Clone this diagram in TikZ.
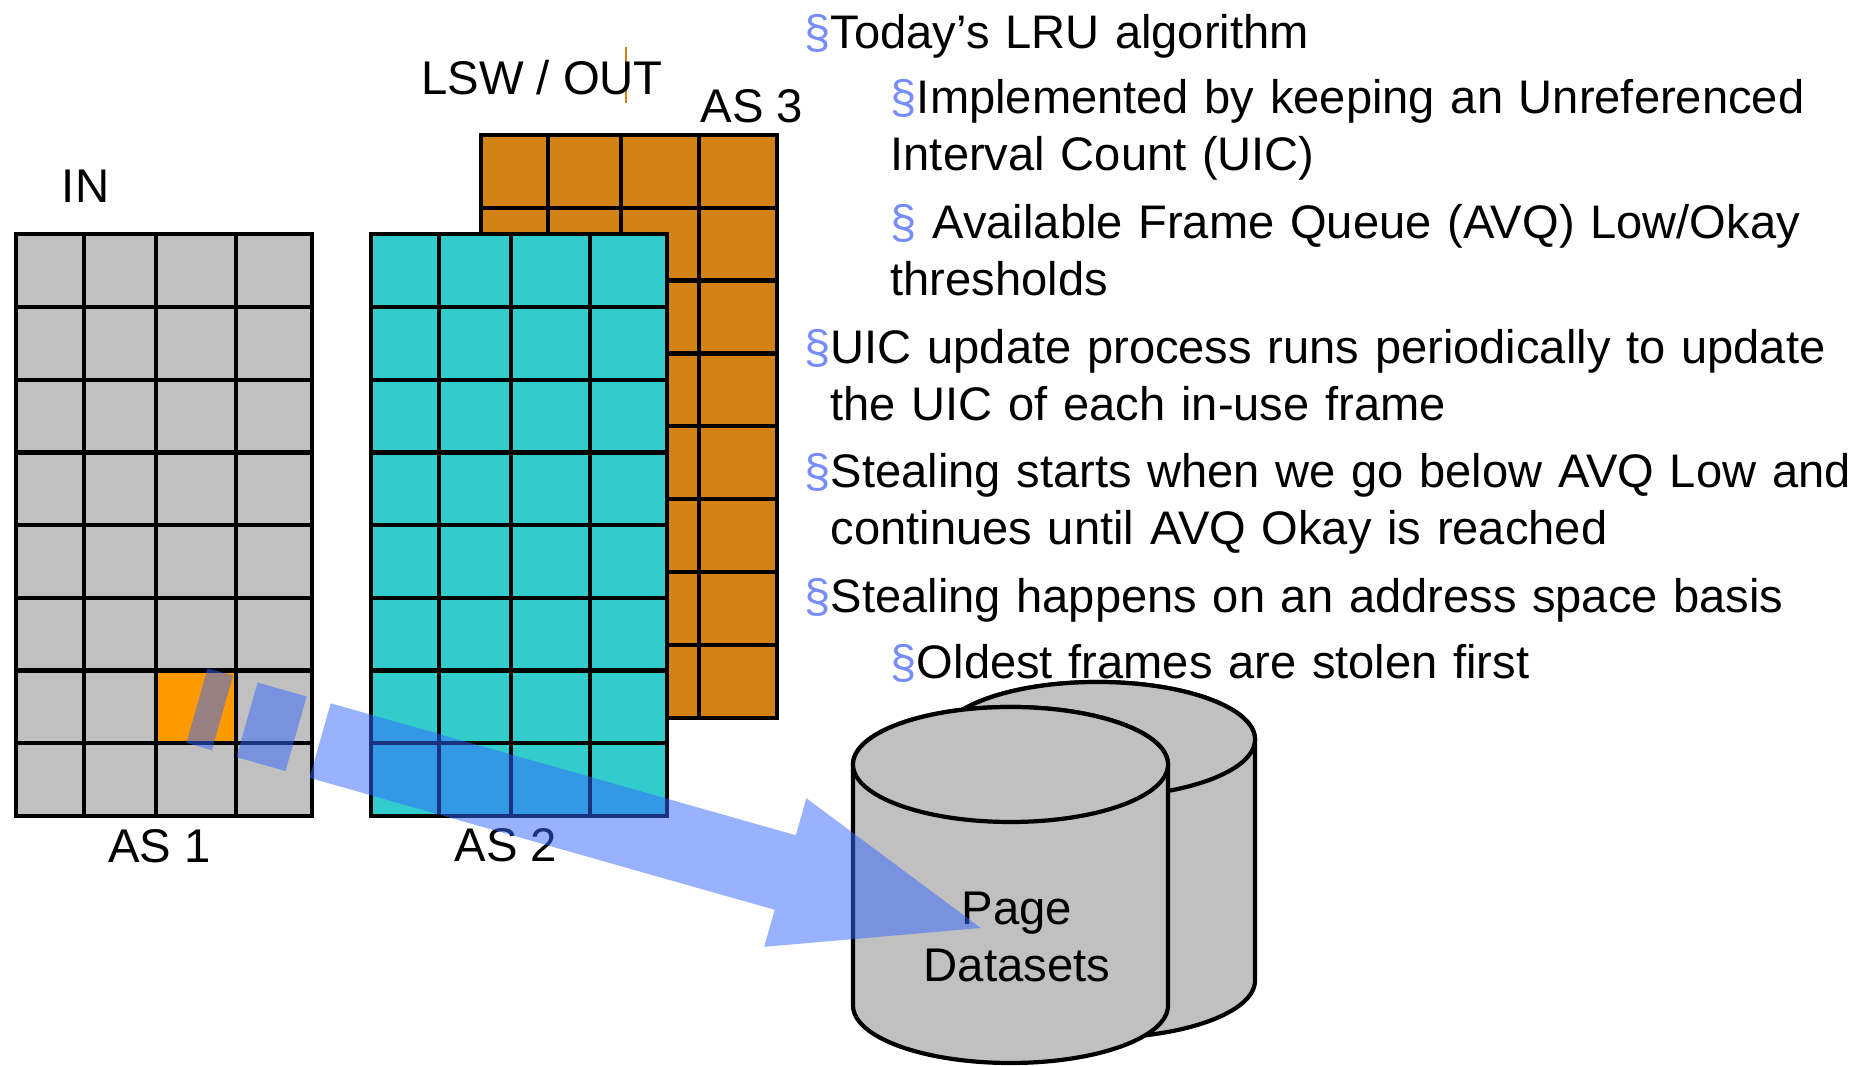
\documentclass[tikz,border=0pt]{standalone}
\usepackage{fontspec}
\setmainfont{Liberation Sans}
\usetikzlibrary{shapes}

\definecolor{asgray}{RGB}{192,192,192}
\definecolor{ascyan}{RGB}{51,204,204}
\definecolor{asbrown}{RGB}{211,130,22}
\definecolor{hotorange}{RGB}{255,153,0}
\definecolor{stealblue}{RGB}{51,102,255}
\definecolor{secblue}{RGB}{118,140,255}
\newcommand{\secmark}{\textcolor{secblue}{§}}

\begin{document}
\begin{tikzpicture}

\tikzstyle{grid}=[line width=1.2pt, draw=black, line cap=rect]
\tikzstyle{asname}=[font=\fontsize{13.45}{16.2}\selectfont, inner sep=0pt, anchor=base]
\tikzstyle{bulletline}=[font=\fontsize{13.4}{16.2}\selectfont, inner sep=0pt, anchor=base west, text width=10.6cm, align=left]
\tikzstyle{disk}=[line width=1.2pt, draw=black, fill=asgray]
\tikzstyle{stolen}=[fill=stealblue, fill opacity=0.5]

\useasboundingbox (0,0) rectangle (18.57,10.66);

% AS 3 sits behind AS 2
\fill[asbrown] (4.81,3.48) rectangle (7.77,9.31);
\foreach \x in {4.81,5.48,6.21,6.99,7.77}
  \draw[grid] (\x,3.48) -- (\x,9.31);
\foreach \k in {0,...,8}
  \draw[grid] (4.81,{3.48+0.729*\k}) -- (7.77,{3.48+0.729*\k});

\fill[ascyan] (3.71,2.50) rectangle (6.67,8.316);
\foreach \x in {3.71,4.39,5.11,5.90,6.67}
  \draw[grid] (\x,2.50) -- (\x,8.316);
\foreach \k in {0,...,8}
  \draw[grid] (3.71,{2.50+0.727*\k}) -- (6.67,{2.50+0.727*\k});

\fill[asgray] (0.16,2.50) rectangle (3.12,8.316);
\fill[hotorange] (1.56,3.227) rectangle (2.36,3.954);
\foreach \x in {0.16,0.84,1.56,2.36,3.12}
  \draw[grid] (\x,2.50) -- (\x,8.316);
\foreach \k in {0,...,8}
  \draw[grid] (0.16,{2.50+0.727*\k}) -- (3.12,{2.50+0.727*\k});

\draw[asbrown, line width=0.5pt] (6.26,10.19) -- (6.26,9.63);

\node[asname] (in) at (0.855,8.63) {IN};
\node[asname] (lsw) at (5.42,9.71) {LSW / OUT};
\node[asname] (as3) at (7.52,9.43) {AS 3};
\node[asname] (as1) at (1.595,2.03) {AS 1};
\node[asname] (as2) at (5.06,2.04) {AS 2};

% page datasets
\filldraw[disk] (9.40,3.265) -- (9.40,0.855) arc[start angle=180, end angle=360, x radius=1.575, y radius=0.575]
  -- (12.55,3.265) arc[start angle=0, end angle=180, x radius=1.575, y radius=0.575] -- cycle;
\filldraw[disk] (10.975,3.265) ellipse [x radius=1.575, y radius=0.575];
\filldraw[disk] (8.53,3.015) -- (8.53,0.605) arc[start angle=180, end angle=360, x radius=1.575, y radius=0.575]
  -- (11.68,3.015) arc[start angle=0, end angle=180, x radius=1.575, y radius=0.575] -- cycle;
\filldraw[disk] (10.105,3.015) ellipse [x radius=1.575, y radius=0.575];

\node[asname, text width=3cm, align=center] (pds) at (10.17,1.41) {Page\\Datasets};

\node[bulletline] (lru) at (8.30,10.17) {\llap{\secmark}Today’s LRU algorithm};
\node[bulletline] (uic) at (8.90,9.52) {\secmark Implemented by keeping an Unreferenced\\Interval Count (UIC)};
\node[bulletline] (avq) at (8.90,8.27) {\secmark{} Available Frame Queue (AVQ) Low/Okay\\thresholds};
\node[bulletline] (upd) at (8.30,7.02) {\llap{\secmark}UIC update process runs periodically to update\\the UIC of each in-use frame};
\node[bulletline] (stl) at (8.30,5.78) {\llap{\secmark}Stealing starts when we go below AVQ Low and\\continues until AVQ Okay is reached};
\node[bulletline] (asb) at (8.30,4.53) {\llap{\secmark}Stealing happens on an address space basis};
\node[bulletline] (old) at (8.90,3.87) {\secmark Oldest frames are stolen first};

% striped arrow
\begin{scope}[shift={(3.307,3.627)}, rotate=-15.84]
\fill[stolen] (-1.28,0) rectangle (-1.015,-0.775);
\fill[stolen] (-0.76,0) rectangle (-0.25,-0.775);
\fill[stolen] (0,0) -- (4.835,0) -- (4.835,0.385) -- (6.867,-0.3875) -- (4.835,-1.16)
  -- (4.835,-0.775) -- (0,-0.775) -- cycle;
\end{scope}

\end{tikzpicture}
\end{document}
